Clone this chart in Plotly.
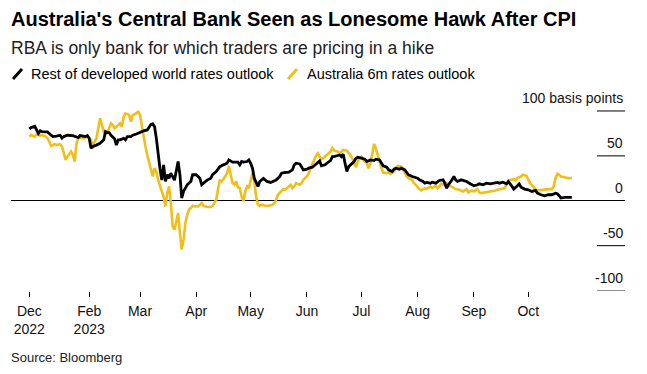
import pandas as pd
import plotly.graph_objects as go

# ---------------- data ----------------
start_date = "2022-12-30"

rest_days = [0, 1, 3, 4, 5, 6, 7, 9, 10, 12, 13, 15, 17, 18, 19, 21, 22, 24, 26, 27, 28, 30, 31, 32, 33, 34, 35, 37,
             39, 41, 42, 43, 44, 45, 47, 48, 49, 50, 52, 53, 54, 56, 57, 59, 61, 63, 65, 66, 67, 68, 69, 70, 71, 72,
             73, 74, 75, 76, 77, 78, 79, 80, 82, 83, 84, 85, 87, 89, 90, 92, 94, 95, 96, 98, 100, 101, 103, 105, 107,
             109, 110, 112, 113, 115, 116, 117, 118, 120, 121, 122, 123, 124, 126, 127, 129, 130, 131, 133, 134, 136,
             138, 139, 141, 143, 145, 146, 147, 149, 150, 151, 153, 154, 156, 157, 158, 160, 161, 163, 164, 166, 167,
             168, 170, 171, 172, 173, 174, 175, 176, 178, 179, 180, 181, 183, 185, 186, 187, 188, 190, 191, 193, 194,
             195, 197, 198, 200, 201, 202, 204, 205, 207, 208, 209, 211, 212, 214, 215, 217, 218, 219, 221, 222, 224,
             225, 226, 228, 229, 230, 231, 233, 234, 235, 236, 238, 239, 241, 243, 245, 247, 248, 250, 252, 254, 256,
             258, 259, 261, 263, 264, 266, 267, 269, 270, 271, 273, 275, 277, 279, 280, 282, 284, 286, 288, 290, 291,
             292, 293, 295, 297, 299]
rest_bp = [80, 81.5, 83, 79, 75, 78, 77, 76.7, 76.7, 73, 71.5, 72, 73, 69.7, 71.5, 73, 73, 72.6, 71, 70.4, 72.6, 71.5,
           71.5, 72.6, 69.7, 58.5, 60.4, 62, 64, 67.8, 77, 76, 76, 73, 69, 62, 67.8, 67.8, 69.6, 67.8, 71.5, 71.5, 73,
           74.4, 76.3, 77.8, 78.9, 82.6, 85, 85.6, 82.6, 69.6, 51, 36, 23, 40, 21.5, 29, 25, 30.7, 27, 23, 43.7, 29, 3,
           10.4, 17.8, 21.5, 29, 29, 25, 17.8, 19.6, 23, 25, 29, 32.6, 38, 40, 41.8, 45.5, 43, 43, 43, 40, 43.7, 43,
           43.7, 45.5, 41.8, 36.3, 25, 16, 21.5, 25, 23, 21.5, 20.4, 21.5, 23, 27, 30.7, 31.5, 31.8, 34.4, 40, 41.8, 41,
           38, 34.4, 35.2, 36.3, 37.4, 38.9, 41, 44.4, 38.9, 40, 41.8, 44.8, 49.2, 49.2, 50.4, 51, 49.2, 51.9, 41.8,
           32.6, 38, 42.6, 43.7, 47.4, 48.5, 47.4, 46.3, 43.7, 44.8, 45.5, 44.8, 46.3, 45.5, 41.8, 38.9, 37.4, 34.4,
           32.6, 35.2, 36.3, 35.2, 36.3, 34.4, 31.5, 28.9, 27, 26.3, 25.2, 23.3, 21.5, 19.6, 20.4, 19.6, 20.7, 19.6,
           21.5, 22.6, 23.3, 19.6, 14, 17.8, 23.3, 27, 23.3, 21.5, 23.3, 22.6, 21.5, 18.9, 16.7, 17.8, 18.9, 17.8,
           19.6, 18.9, 19.6, 20.4, 19.6, 20.7, 18.9, 21.5, 16, 13, 16.7, 18.9, 15.2, 13, 12.2, 10.4, 11.5, 8.5, 6.7,
           5.6, 6.7, 6.7, 8.5, 7.8, 5.6, 3, 3.7, 3.7, 3.7]

aus_days = [0, 1, 3, 4, 6, 7, 9, 10, 11, 12, 14, 15, 17, 18, 19, 20, 21, 23, 24, 25, 26, 27, 28, 30, 31, 32, 34, 35,
            36, 37, 39, 40, 41, 42, 44, 45, 46, 47, 48, 50, 51, 52, 53, 55, 56, 57, 58, 60, 61, 62, 63, 64, 65, 66,
            67, 68, 69, 70, 71, 72, 73, 74, 75, 76, 77, 78, 79, 80, 81, 82, 83, 84, 85, 86, 87, 88, 89, 90, 91, 93,
            95, 96, 98, 100, 101, 103, 104, 105, 106, 107, 109, 110, 111, 112, 113, 114, 115, 116, 117, 118, 119, 120,
            121, 122, 123, 124, 125, 126, 127, 128, 130, 132, 134, 135, 136, 137, 139, 140, 141, 143, 144, 145, 146,
            147, 149, 150, 151, 153, 154, 155, 156, 157, 158, 159, 160, 161, 162, 164, 165, 166, 167, 168, 170, 171,
            172, 173, 175, 176, 178, 179, 180, 181, 182, 183, 184, 186, 187, 188, 189, 190, 191, 192, 193, 194, 195,
            197, 198, 199, 201, 202, 203, 205, 206, 207, 208, 209, 211, 212, 213, 215, 216, 218, 219, 221, 222, 224,
            225, 226, 227, 228, 230, 231, 233, 234, 235, 237, 239, 241, 242, 244, 245, 247, 248, 249, 251, 253, 255,
            257, 258, 260, 262, 264, 265, 267, 268, 269, 271, 272, 274, 275, 276, 278, 279, 280, 282, 284, 286, 288,
            289, 290, 291, 292, 293, 295, 297, 299]
aus_bp = [71.5, 73.3, 71.5, 74, 72.6, 73.3, 71.5, 69.6, 66, 61, 63, 62, 63, 60.4, 53, 45.5, 49.2, 54.8, 51, 43.7, 64,
          69.6, 70.4, 69.6, 70.4, 71.5, 67.8, 58.5, 66, 69.6, 92, 82.6, 77, 73.3, 80.7, 86.3, 84.4, 80.7, 82.6, 86.3,
          82.6, 93.7, 97.4, 95.6, 88, 95.6, 96.3, 99.3, 95.6, 82.6, 71.5, 60.4, 51, 41.8, 34.4, 27, 36.3, 32.6, 23.3,
          16, 10.4, 4.8, -6.3, 8.5, 16, -2.6, -28.5, -32.2, -21, -13.7, -35.9, -54.4, -43.3, -24.8, -15.6, -10, -8.1,
          -5.6, -6.3, -6.3, -2.6, -5.6, -7, -7, -5.6, 1.1, 13, 23.3, 21.5, 24, 30.7, 38.9, 28.9, 19.6, 17.8, 21.5,
          15.2, 14, 4.8, -0.7, 10.4, 16, 14, 23.3, 30.7, 21.5, 4.8, -4.4, -5.6, -4.4, -5.6, -5.6, -4.4, -2.6, 1.1, 6.7,
          10.4, 13, 12.2, 16, 17.8, 14, 16, 19.6, 17.8, 19.6, 23.3, 27, 30.7, 36.3, 41.8, 45.5, 50, 53, 49.2, 46.3,
          47.4, 51, 53, 54.8, 58.5, 55.9, 54.8, 53, 54.8, 56.7, 55.9, 53, 47.4, 41.8, 37.4, 43.7, 47.4, 49.2, 45.5,
          41.8, 36.3, 41.8, 52, 63.3, 58, 52, 44, 37, 31.5, 30.7, 31.5, 30, 32.6, 36.3, 38.9, 38, 35.2, 30.7, 27, 25.2,
          23.3, 19.6, 17.8, 13, 11.5, 14, 13, 16, 14, 16.7, 14, 16, 18.9, 17.8, 19.6, 17.8, 15.2, 14, 13, 12.2, 10.4,
          13, 9.3, 11.5, 10.4, 13, 9.3, 8.5, 9.3, 9.3, 10.4, 11.5, 12.2, 13, 14, 22.6, 23.3, 24, 22.6, 25.2, 27, 28.9,
          27.8, 23.3, 19.6, 15.2, 12.2, 11.5, 12.2, 13, 13, 13, 16, 25.2, 30, 28.9, 27, 26.3, 25.2, 25.2]

x_tick_dates = ["2022-12-30", "2023-02-01", "2023-03-01", "2023-04-01", "2023-05-01", "2023-06-01",
                "2023-07-01", "2023-08-01", "2023-09-01", "2023-10-01"]
x_tick_labels = ["Dec<br>2022", "Feb<br>2023", "Mar", "Apr", "May", "Jun", "Jul", "Aug", "Sep", "Oct"]
y_tick_vals = [-100, -50, 0, 50, 100]
y_tick_labels = ["-100", "-50", "0", "50", "100 basis points"]

title = "Australia's Central Bank Seen as Lonesome Hawk After CPI"
subtitle = "RBA is only bank for which traders are pricing in a hike"
series_names = ["Rest of developed world rates outlook", "Australia 6m rates outlook"]
source = "Source: Bloomberg"

# ---------------- figure ----------------
BLACK = "#000000"
YELLOW = "#F2BE1A"
FONT = "Liberation Sans, Arial, sans-serif"

base = pd.Timestamp(start_date)
rest_x = base + pd.to_timedelta(rest_days, unit="D")
aus_x = base + pd.to_timedelta(aus_days, unit="D")

fig = go.Figure()
fig.add_trace(go.Scatter(x=aus_x, y=aus_bp, mode="lines", name=series_names[1],
                         line=dict(color=YELLOW, width=2.6), showlegend=False))
fig.add_trace(go.Scatter(x=rest_x, y=rest_bp, mode="lines", name=series_names[0],
                         line=dict(color=BLACK, width=2.8), showlegend=False))

W, H = 647, 374
ML, MR, MT, MB = 11, 22, 88, 83
pw, ph = W - ML - MR, H - MT - MB


def px(xp):
    return (xp - ML) / pw


def py(yp):
    return (H - MB - yp) / ph


fig.update_layout(
    width=W, height=H,
    margin=dict(l=ML, r=MR, t=MT, b=MB, pad=0, autoexpand=False),
    paper_bgcolor="white", plot_bgcolor="white",
    font=dict(family=FONT, color="#000", size=14),
    xaxis=dict(
        type="date", automargin=False,
        range=["2022-12-19 21:36", "2023-11-23 07:12"],
        tickvals=x_tick_dates, ticktext=x_tick_labels,
        ticks="outside", ticklen=5, tickwidth=1, tickcolor="#000",
        ticklabelstandoff=2,
        showgrid=False, zeroline=False, showline=False,
        tickfont=dict(size=14, color="#111"),
    ),
    yaxis=dict(
        side="right", automargin=False,
        range=[-100.5, 125.6],
        showticklabels=False, ticks="", showgrid=False, showline=False,
        zeroline=True, zerolinecolor="#000", zerolinewidth=1,
    ),
)

shapes = []
ann = []
for v, lab in zip(y_tick_vals, y_tick_labels):
    if v != 0:
        shapes.append(dict(type="line", xref="paper", yref="y", x0=px(597), x1=1, y0=v, y1=v,
                           line=dict(color="#888" if v == y_tick_vals[0] else "#000", width=1)))
    ann.append(dict(text=lab, xref="paper", yref="y", x=1, y=v, xanchor="right", yanchor="middle",
                    yshift=13, showarrow=False, font=dict(size=14, color="#111")))
# legend icons (slanted strokes)
shapes.append(dict(type="line", xref="paper", yref="paper", x0=px(13), y0=py(79), x1=px(22), y1=py(69),
                   line=dict(color=BLACK, width=3)))
shapes.append(dict(type="line", xref="paper", yref="paper", x0=px(288), y0=py(79), x1=px(297), y1=py(69),
                   line=dict(color=YELLOW, width=3)))
fig.update_layout(shapes=shapes)

txt = [
    dict(text="<b>" + title + "</b>", x=px(9), y=py(19), font=dict(size=20, color="#000")),
    dict(text=subtitle, x=px(9), y=py(48), font=dict(size=17.5, color="#222")),
    dict(text=series_names[0], x=px(29), y=py(74), font=dict(size=14.5, color="#000")),
    dict(text=series_names[1], x=px(305), y=py(74), font=dict(size=14.5, color="#000")),
    dict(text=source, x=px(9), y=py(357), font=dict(size=13, color="#222")),
]
for a in txt:
    a.update(xref="paper", yref="paper", xanchor="left", yanchor="middle", showarrow=False)
fig.update_layout(annotations=ann + txt)

fig.write_html("out.html", config={"displayModeBar": False},
               post_script="document.body.style.margin='0';document.body.style.padding='0';")
